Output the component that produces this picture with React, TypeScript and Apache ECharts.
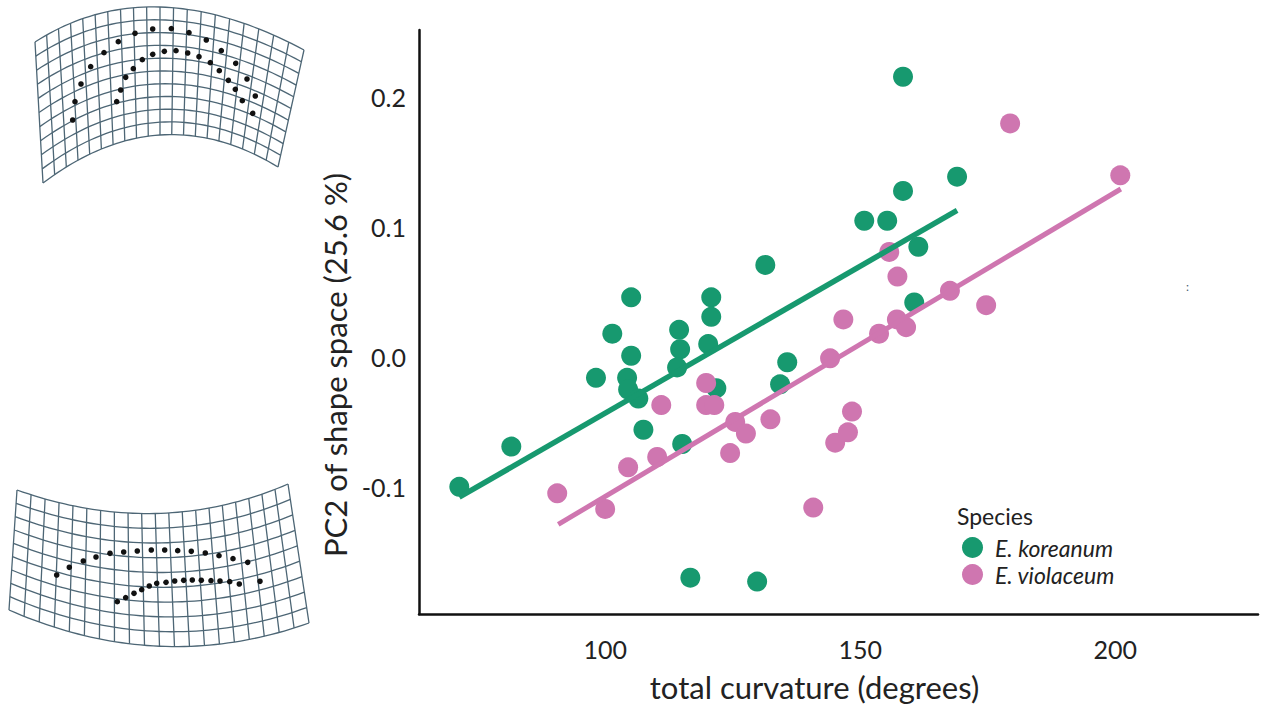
import { useEffect, useRef } from "react";
import * as echarts from "echarts";

// ---- data ----
const koreanumCurvature = [71.4, 81.6, 98.2, 101.4, 105.1, 105.1, 104.3, 104.5, 106.5, 107.5, 114.5, 114.7, 114.1, 115.1, 120.8, 120.8, 120.2, 121.8, 116.7, 129.8, 131.4, 135.7, 134.3, 150.8, 155.3, 158.4, 158.4, 161.4, 160.6, 169.0];
const koreanumPC2 = [-0.100, -0.069, -0.016, 0.018, 0.046, 0.001, -0.016, -0.025, -0.032, -0.056, 0.021, 0.006, -0.008, -0.067, 0.046, 0.031, 0.010, -0.024, -0.170, -0.173, 0.071, -0.004, -0.021, 0.105, 0.105, 0.216, 0.128, 0.085, 0.042, 0.139];

const violaceumCurvature = [90.6, 100.0, 104.5, 110.2, 111.0, 119.8, 119.8, 121.4, 125.5, 127.6, 124.5, 132.4, 140.8, 144.1, 146.7, 145.1, 148.4, 147.6, 153.7, 155.7, 157.3, 157.2, 159.0, 167.6, 174.7, 179.4, 201.0];
const violaceumPC2 = [-0.105, -0.117, -0.085, -0.077, -0.037, -0.020, -0.037, -0.037, -0.050, -0.059, -0.074, -0.048, -0.116, -0.001, 0.029, -0.066, -0.042, -0.058, 0.018, 0.081, 0.062, 0.029, 0.023, 0.051, 0.040, 0.180, 0.140];

const koreanumFitX = [71.4, 169.0];
const koreanumFitY = [-0.108, 0.113];
const violaceumFitX = [90.8, 201.1];
const violaceumFitY = [-0.129, 0.1295];

const xTicks = [100, 150, 200];
const yTicks = [-0.1, 0.0, 0.1, 0.2];

const speciesNames = ["E. koreanum", "E. violaceum"];

// ---- decoration: deformation-grid thumbnails (pixel space) ----
type P = [number, number];
const topGridTop: [P, P, P] = [[35, 42], [150.5, -32], [304, 50]];
const topGridBottom: [P, P, P] = [[43, 183], [159.5, 95], [278, 167]];
const bottomGridTop: [P, P, P] = [[17, 490], [158, 540], [288, 484]];
const bottomGridBottom: [P, P, P] = [[9, 610], [160, 676], [309, 623]];

const topLandmarks: P[] = [
  [72.7, 120], [75, 101.7], [81, 84], [90.7, 66.7], [104, 52.7], [118.3, 41.7], [135, 33.3], [152.7, 29], [171.3, 28.7], [189, 32.7], [206.3, 40], [221.3, 50.7], [235.7, 63.3], [247, 79], [255.3, 96], [252.7, 113.3],
  [116.7, 101.7], [120.7, 90], [125.7, 77.3], [133.3, 68.7], [142.3, 59.7], [152.7, 54.3], [164.3, 51.3], [176, 50.7], [187.7, 53], [199, 56.7], [210.3, 62.7], [219.3, 70.7], [228.3, 80.3], [235.3, 89.3], [242.3, 100.7],
];
const bottomLandmarks: P[] = [
  [56.7, 575], [69.3, 567.3], [83.3, 561], [96, 557], [110, 553.3], [123.7, 552], [137.3, 551], [151.3, 550], [164.7, 550], [177.7, 550.7], [191.3, 551.3], [205.3, 553], [219, 555.7], [233, 558.7], [247.7, 562.3],
  [117.3, 601.7], [125.7, 597.7], [134, 593.3], [141.7, 589.7], [149.3, 586], [156.7, 583.3], [166, 582.3], [174.7, 581], [183.7, 580.3], [192.3, 580], [201.3, 580.3], [211, 580.7], [220, 581], [229.7, 581.7], [239.3, 584], [260, 581.3],
];

const GREEN = "#17996f";
const PINK = "#cf76b0";
const FONT = "Lato";

function quad(a: P, c: P, b: P, t: number): P {
  const m = 1 - t;
  return [m * m * a[0] + 2 * m * t * c[0] + t * t * b[0], m * m * a[1] + 2 * m * t * c[1] + t * t * b[1]];
}

function warpedGrid(top: [P, P, P], bottom: [P, P, P], cols: number, rows: number) {
  const els: any[] = [];
  const steps = 48;
  const pt = (u: number, v: number): P => {
    const p = quad(top[0], top[1], top[2], u);
    const q = quad(bottom[0], bottom[1], bottom[2], u);
    return [p[0] * (1 - v) + q[0] * v, p[1] * (1 - v) + q[1] * v];
  };
  const style = { stroke: "#4d6675", lineWidth: 1.3, fill: null };
  for (let i = 0; i <= rows; i++) {
    const pts: P[] = [];
    for (let s = 0; s <= steps; s++) pts.push(pt(s / steps, i / rows));
    els.push({ type: "polyline", silent: true, shape: { points: pts }, style });
  }
  for (let j = 0; j <= cols; j++) {
    const pts: P[] = [];
    for (let s = 0; s <= 10; s++) pts.push(pt(j / cols, s / 10));
    els.push({ type: "polyline", silent: true, shape: { points: pts }, style });
  }
  return els;
}

function dots(list: P[]) {
  return list.map((p) => ({
    type: "circle",
    silent: true,
    shape: { cx: p[0], cy: p[1], r: 2.8 },
    style: { fill: "#111" },
  }));
}

export default function App() {
  const ref = useRef<HTMLDivElement>(null);

  useEffect(() => {
    if (!ref.current) return;
    const chart = echarts.init(ref.current, undefined, { renderer: "svg" });

    const pairs = (xs: number[], ys: number[]) => xs.map((x, i) => [x, ys[i]]);

    chart.setOption({
      animation: false,
      backgroundColor: "#ffffff",
      grid: { left: 419, top: 30, width: 839, height: 584, containLabel: false },
      xAxis: {
        type: "value",
        min: 63.5,
        max: 228,
        name: "total curvature (degrees)",
        nameLocation: "middle",
        nameGap: 57,
        nameTextStyle: { fontFamily: FONT, fontSize: 31, color: "#222", padding: [0, 48, 0, 0] },
        axisLine: { show: true, onZero: false, lineStyle: { color: "#111", width: 2.5 } },
        axisTick: { show: false },
        splitLine: { show: false },
        axisLabel: {
          customValues: xTicks,
          margin: 22,
          fontFamily: FONT,
          fontSize: 25,
          color: "#222",
          formatter: (v: number) => String(Math.round(v)),
        },
      },
      yAxis: {
        type: "value",
        min: -0.198,
        max: 0.252,
        name: "PC2 of shape space (25.6 %)",
        nameLocation: "middle",
        nameGap: 66,
        nameTextStyle: { fontFamily: FONT, fontSize: 31, color: "#222", padding: [0, 86, 0, 0] },
        axisLine: { show: true, onZero: false, lineStyle: { color: "#111", width: 2.5 } },
        axisTick: { show: false },
        splitLine: { show: false },
        axisLabel: {
          customValues: yTicks,
          margin: 13,
          fontFamily: FONT,
          fontSize: 25,
          color: "#222",
          formatter: (v: number) => v.toFixed(1),
        },
      },
      legend: {
        data: speciesNames,
        orient: "vertical",
        left: 957,
        top: 531,
        icon: "circle",
        itemWidth: 21,
        itemHeight: 21,
        itemGap: 4,
        textStyle: { fontFamily: FONT, fontSize: 23, fontStyle: "italic", color: "#222", padding: [0, 0, 0, 7] },
      },
      series: [
        {
          name: speciesNames[0],
          type: "scatter",
          symbolSize: 20,
          itemStyle: { color: GREEN, opacity: 1 },
          data: pairs(koreanumCurvature, koreanumPC2),
          z: 2,
        },
        {
          name: speciesNames[1],
          type: "scatter",
          symbolSize: 20,
          itemStyle: { color: PINK, opacity: 1 },
          data: pairs(violaceumCurvature, violaceumPC2),
          z: 3,
        },
        {
          name: "fit koreanum",
          type: "line",
          showSymbol: false,
          symbol: "none",
          lineStyle: { color: GREEN, width: 5.5 },
          data: pairs(koreanumFitX, koreanumFitY),
          z: 4,
        },
        {
          name: "fit violaceum",
          type: "line",
          showSymbol: false,
          symbol: "none",
          lineStyle: { color: PINK, width: 5 },
          data: pairs(violaceumFitX, violaceumFitY),
          z: 5,
        },
      ],
      graphic: [
        {
          type: "text",
          left: 957,
          top: 504,
          style: { text: "Species", fontFamily: FONT, fontSize: 23, fill: "#222" },
        },
        {
          type: "text",
          x: 1186,
          y: 280,
          style: { text: ":", fontFamily: FONT, fontSize: 12, fill: "#4a6070" },
        },
        ...warpedGrid(topGridTop, topGridBottom, 20, 10),
        ...warpedGrid(bottomGridTop, bottomGridBottom, 20, 9),
        ...dots(topLandmarks),
        ...dots(bottomLandmarks),
      ],
    });

    return () => chart.dispose();
  }, []);

  return <div ref={ref} style={{ position: "fixed", left: 0, top: 0, width: 1273, height: 707 }} />;
}
